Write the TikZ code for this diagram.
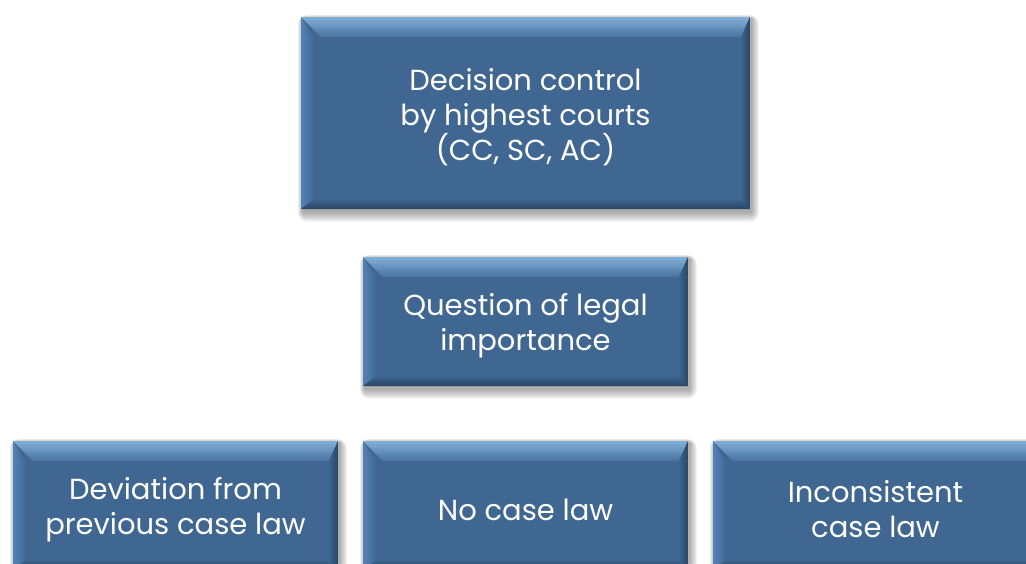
\documentclass[tikz,border=0pt]{standalone}
\usepackage{fontspec}
\newfontfamily\boxfont{Poppins}
\usetikzlibrary{calc,backgrounds}

% palette for the bevelled blue boxes
\definecolor{boxmain}{RGB}{63,103,145}
\definecolor{bvtopA}{RGB}{130,175,215}
\definecolor{bvtopB}{RGB}{190,228,246}
\definecolor{bvtopC}{RGB}{72,114,160}
\definecolor{bvleftA}{RGB}{84,130,182}
\definecolor{bvleftB}{RGB}{65,106,150}
\definecolor{bvrightA}{RGB}{60,99,140}
\definecolor{bvrightB}{RGB}{40,70,104}
\definecolor{bvbotA}{RGB}{60,98,139}
\definecolor{bvbotB}{RGB}{40,68,100}

\newcommand{\bvw}{20pt}
\newcommand{\bvl}{12pt}
\newcommand{\bvs}{9pt}

\tikzset{
  bevelbox/.style={
    rectangle, inner sep=0pt, align=center, text=white,
    font=\boxfont\fontsize{29}{35}\selectfont,
    path picture={
      \coordinate (A) at (path picture bounding box.north west);
      \coordinate (B) at (path picture bounding box.north east);
      \coordinate (C) at (path picture bounding box.south east);
      \coordinate (D) at (path picture bounding box.south west);
      \coordinate (iA) at ($(A)+(\bvw,-\bvw)$);
      \coordinate (iB) at ($(B)+(-\bvs,-\bvw)$);
      \coordinate (iC) at ($(C)+(-\bvs,\bvs)$);
      \coordinate (iD) at ($(D)+(\bvl,\bvs)$);
      \coordinate (iA2) at ($(A)+(\bvl,-\bvw)$);
      \fill[boxmain] (A) rectangle (C);
      \shade[left color=bvleftA, right color=bvleftB]
        (A) -- (iA2) -- (iD) -- (D) -- cycle;
      \shade[top color=bvtopA, middle color=bvtopB, bottom color=bvtopC]
        (A) -- (B) -- (iB) -- (iA) -- cycle;
      \shade[left color=bvrightA, right color=bvrightB]
        (B) -- (C) -- (iC) -- (iB) -- cycle;
      \shade[top color=bvbotA, bottom color=bvbotB]
        (D) -- (iD) -- (iC) -- (C) -- cycle;
    }
  },
  boxtext/.style={yshift=-4pt}
}

\begin{document}
\begin{tikzpicture}[x=1pt,y=-1pt]
  \useasboundingbox (0,0) rectangle (1026,563);
  \clip (0,0) rectangle (1026,563);

  \node[bevelbox, minimum width=449pt, minimum height=192pt] (top) at (525.5,113) {};
  \node[bevelbox, minimum width=325pt, minimum height=129pt] (mid) at (525.5,321.5) {};
  \node[bevelbox, minimum width=325pt, minimum height=129pt] (dev) at (175.5,505.5) {};
  \node[bevelbox, minimum width=325pt, minimum height=129pt] (none) at (525.5,505.5) {};
  \node[bevelbox, minimum width=325pt, minimum height=129pt] (inc) at (875.5,505.5) {};

  % box labels
  \node[bevelbox, path picture={}, boxtext] (topT) at (top) {Decision control\\by highest courts\\(CC, SC, AC)};
  \node[bevelbox, path picture={}, boxtext] (midT) at (mid) {Question of legal\\importance};
  \node[bevelbox, path picture={}, boxtext] (devT) at (dev) {Deviation from\\previous case law};
  \node[bevelbox, path picture={}, boxtext] (noneT) at (none) {No case law};
  \node[bevelbox, path picture={}, boxtext] (incT) at (inc) {Inconsistent\\case law};

  % white page, then soft drop shadows behind every box
  \begin{scope}[on background layer]
    \fill[white] (0,0) rectangle (1026,563);
    \foreach \n in {top,mid,dev,none,inc}{
      \foreach \k in {1,...,10}{
        \fill[black, opacity=0.035, rounded corners=\k pt]
          ($(\n.north west)+(-0.5*\k pt+2pt,0.4*\k pt-2pt)$) rectangle
          ($(\n.south east)+(0.8*\k pt+1pt,-1.0*\k pt-3pt)$);
      }
    }
  \end{scope}
\end{tikzpicture}
\end{document}
